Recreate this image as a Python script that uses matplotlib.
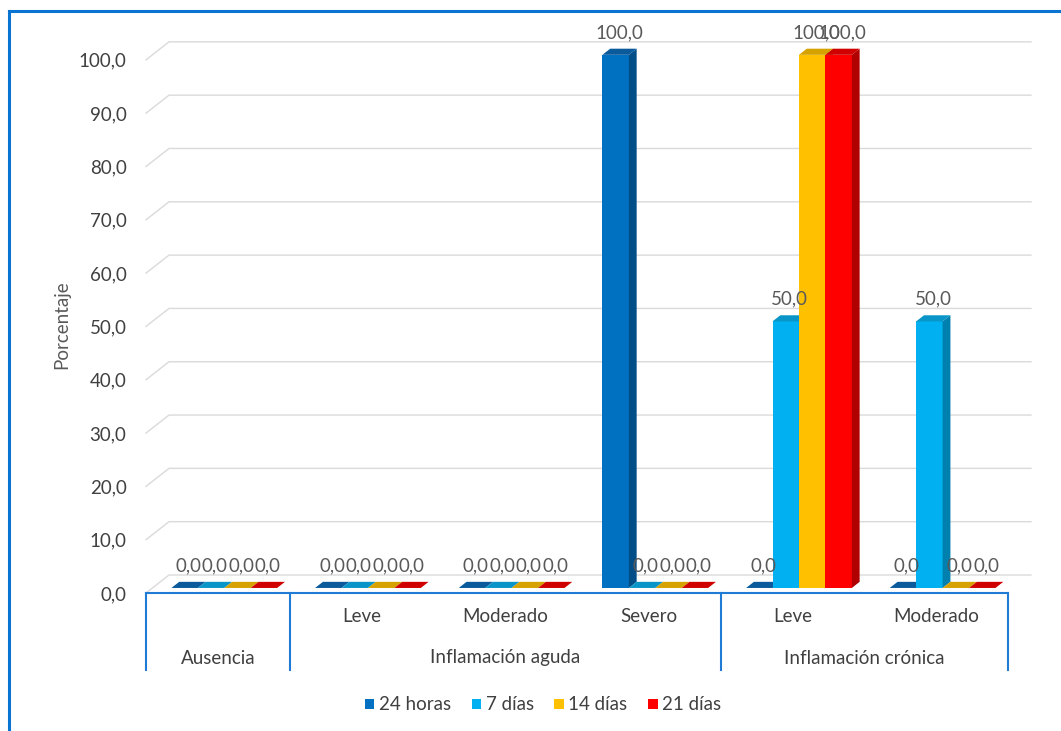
import numpy as np
import matplotlib
matplotlib.use('Agg')
import matplotlib.pyplot as plt
from matplotlib.patches import Polygon, Patch
from matplotlib.lines import Line2D

plt.rcParams['font.family'] = ['Lato', 'DejaVu Sans']

# Datos
subcategorias = ['', 'Leve', 'Moderado', 'Severo', 'Leve', 'Moderado']
grupos = [('Ausencia', 0, 0), ('Inflamación aguda', 1, 3), ('Inflamación crónica', 4, 5)]
series = ['24 horas', '7 días', '14 días', '21 días']
v_24h = [0.0, 0.0, 0.0, 100.0, 0.0, 0.0]
v_7d = [0.0, 0.0, 0.0, 0.0, 50.0, 50.0]
v_14d = [0.0, 0.0, 0.0, 0.0, 100.0, 0.0]
v_21d = [0.0, 0.0, 0.0, 0.0, 100.0, 0.0]
valores = [v_24h, v_7d, v_14d, v_21d]

# Colores (frente, lado, techo)
c_frente = ['#0070C0', '#00B0F0', '#FFC000', '#FF0000']
c_lado = ['#004E88', '#0080AE', '#BF9000', '#B00000']
c_techo = ['#0A5A9C', '#0A95C8', '#D6A200', '#D00000']

gris_txt = '#595959'
gris_osc = '#404040'
azul_eje = '#1F7BD4'
fs = 13.5

W, H = 1061, 731
fig = plt.figure(figsize=(W / 100, H / 100), dpi=100)
ax = fig.add_axes([146 / W, (H - 593) / H, 862 / W, 563 / H])
ax.set_xlim(-0.5, 5.5)
ax.set_ylim(0, 105.6)

# desplazamiento de profundidad (en unidades de datos)
px_x = 862 / 6.0
px_y = 563 / 105.6
dx = 23 / px_x
dy = 18 / px_y
d_frente, d_fondo = 0.28, 0.62

ancho = 0.184
offsets = (np.arange(4) - 1.5) * ancho

# Líneas de cuadrícula en la pared del fondo
ticks = np.arange(0, 101, 10)
for t in ticks:
    ax.plot([-0.5, -0.5 + dx, 5.5 + dx], [t, t + dy, t + dy], color='#DADADA',
            lw=1, clip_on=False, zorder=0)

# Barras con caras 3D
x = np.arange(len(subcategorias))
for i, vals in enumerate(valores):
    for j, v in enumerate(vals):
        x0 = x[j] + offsets[i] - ancho / 2 + dx * d_frente
        x1 = x0 + ancho
        y0 = dy * d_frente
        sx = dx * (d_fondo - d_frente)
        sy = dy * (d_fondo - d_frente)
        z = 2 + j * 10 + i
        if v > 0:
            ax.bar(x0 + ancho / 2, v, width=ancho, bottom=y0, color=c_frente[i],
                   edgecolor='none', zorder=z)
            ax.add_patch(Polygon([(x1, y0), (x1 + sx, y0 + sy), (x1 + sx, y0 + sy + v),
                                  (x1, y0 + v)], closed=True, color=c_lado[i], lw=0, zorder=z))
            ax.add_patch(Polygon([(x0, y0 + v), (x1, y0 + v), (x1 + sx, y0 + sy + v),
                                  (x0 + sx, y0 + sy + v)], closed=True, color=c_techo[i], lw=0, zorder=z))
        else:
            ax.add_patch(Polygon([(x0, y0), (x1, y0), (x1 + sx, y0 + sy), (x0 + sx, y0 + sy)],
                                 closed=True, color=c_techo[i], lw=0, zorder=z))
        ax.annotate(f'{v:.1f}'.replace('.', ','), xy=(x0 + ancho / 2 + sx / 2, v + y0 + sy),
                    xytext=(0, 5.5), textcoords='offset points', ha='center', va='bottom',
                    fontsize=fs, color=gris_txt, zorder=100)

# Eje Y
ax.set_yticks(ticks)
ax.set_yticklabels([f'{t:.1f}'.replace('.', ',') for t in ticks], fontsize=fs, color=gris_osc)
ax.tick_params(axis='y', length=0, pad=14)
ax.set_xticks([])
for s in ax.spines.values():
    s.set_visible(False)
ax.set_ylabel('Porcentaje', fontsize=fs, color=gris_txt)
ax.yaxis.set_label_coords(-76 / 862, 268 / 563)

# Eje de categorías con dos niveles
y_fondo = -77 / px_y
ax.plot([-0.5, 5.5], [0, 0], color=azul_eje, lw=1.5, clip_on=False, zorder=1)
for sep in [-0.5, 0.5, 3.5, 5.5]:
    ax.plot([sep, sep], [0, y_fondo], color=azul_eje, lw=1.5, clip_on=False, zorder=1)
for j, nombre in enumerate(subcategorias):
    ax.text(x[j], -24 / px_y, nombre, ha='center', va='center', fontsize=fs,
            color=gris_osc, clip_on=False)
for nombre, a, b in grupos:
    ax.text((a + b) / 2, -65 / px_y, nombre, ha='center', va='center', fontsize=fs,
            color=gris_osc, clip_on=False)

# Leyenda
handles = [Patch(facecolor=c, edgecolor='none') for c in c_frente]
fig.legend(handles, series, loc='center', bbox_to_anchor=(543 / W, 1 - 705 / H), ncol=4,
           frameon=False, fontsize=fs, handlelength=0.5, handleheight=0.5,
           handletextpad=0.25, columnspacing=1.1, labelcolor=gris_osc)

# Marco azul del área del gráfico
fig.add_artist(Line2D([9 / W, 1.0], [1 - 11 / H, 1 - 11 / H], color='#0A74D2', lw=2.2))
fig.add_artist(Line2D([9 / W, 9 / W], [0.0, 1 - 11 / H], color='#0A74D2', lw=2.2))

fig.savefig('out.png', dpi=100)
